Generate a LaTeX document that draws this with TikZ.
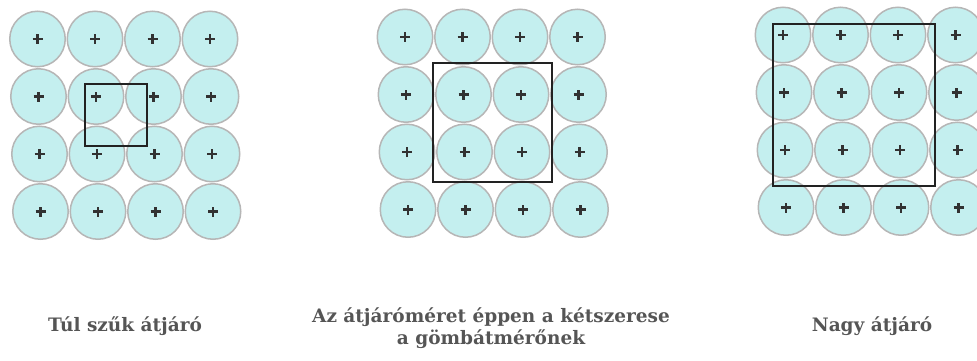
\documentclass[tikz,border=0pt]{standalone}
\usepackage{fontspec}
\setmainfont{DejaVu Serif}
\usetikzlibrary{positioning}
\definecolor{ballfill}{RGB}{196,239,239}
\definecolor{ballline}{RGB}{182,182,182}
\definecolor{plusgray}{RGB}{50,50,50}
\definecolor{boxgray}{RGB}{34,34,34}
\definecolor{textgray}{RGB}{85,85,85}

\begin{document}
\begin{tikzpicture}[x=1pt, y=-1pt,
  ball/.style={circle, draw=ballline, fill=ballfill, line width=1.5pt,
               minimum size=55.5pt, inner sep=0pt,
               path picture={\draw[plusgray, line width=2.6pt]
                 ([xshift=-5pt]path picture bounding box.center) -- ++(10pt,0)
                 ([yshift=-5pt]path picture bounding box.center) -- ++(0,10pt);}},
  gapbox/.style={draw=boxgray, line width=1.8pt},
  lbl/.style={font=\bfseries\fontsize{18.5}{22}\selectfont, text=textgray, align=center}
]
  \useasboundingbox (0,0) rectangle (977,361);
  % three packings of spheres
  \foreach \g/\x/\y in {a/37.5/39, b/405/37, c/783/35} {
    \foreach \i in {0,...,3} {
      \foreach \j in {0,...,3} {
        \node[ball] (\g\i\j) at (\x+57.5*\j+\i, \y+57.5*\i) {};
      }
    }
  }
  % passage openings
  \draw[gapbox] (85,84) rectangle (147,146);
  \draw[gapbox] (433,63) rectangle (552,182);
  \draw[gapbox] (773,24) rectangle (935,186);
  % captions
  \node[lbl] (narrow) at (125,326) {Túl szűk átjáró};
  \node[lbl] (exact)  at (491,328) {Az átjáróméret éppen a kétszerese\\a gömbátmérőnek};
  \node[lbl] (wide)   at (872,326) {Nagy átjáró};
\end{tikzpicture}
\end{document}
